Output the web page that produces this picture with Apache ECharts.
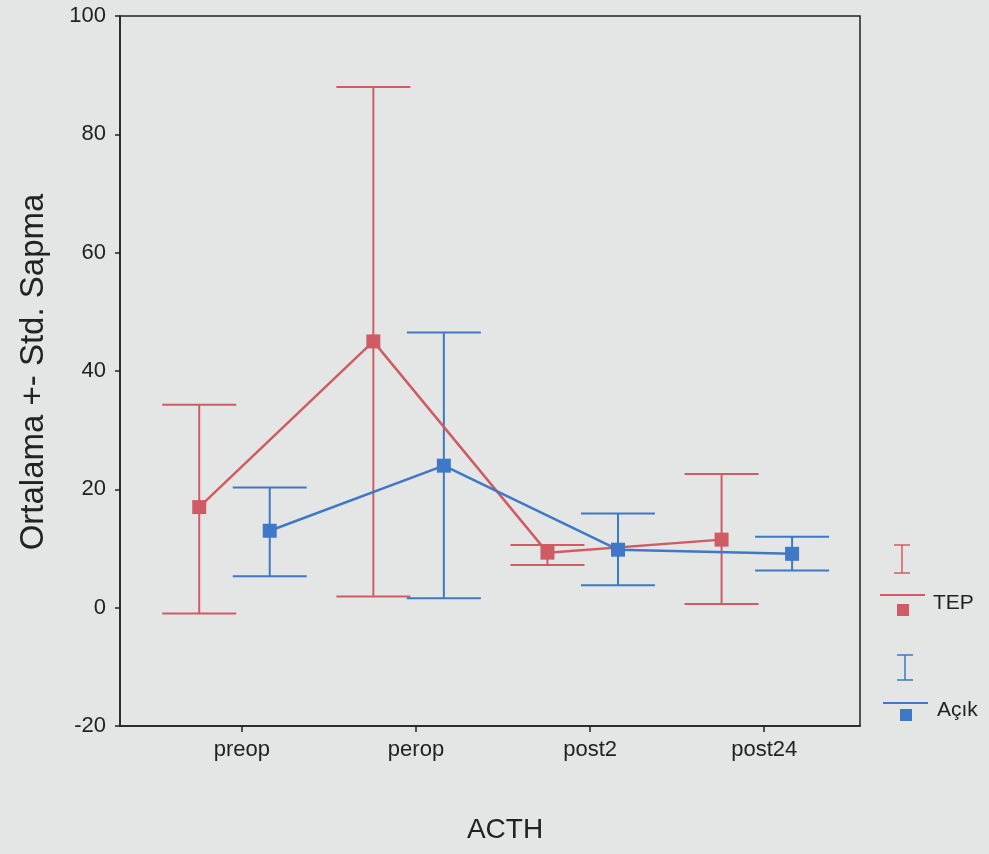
<!DOCTYPE html>
<html><head><meta charset="utf-8">
<script src="https://cdn.jsdelivr.net/npm/echarts@6/dist/echarts.min.js"></script>
<style>html,body{margin:0;padding:0;background:#e4e6e5;}#c{width:989px;height:854px;}</style>
</head><body><div id="c"></div>
<script>
var categories = ['preop', 'perop', 'post2', 'post24'];
var tepMean  = [17, 45, 9.3, 11.5];
var tepUpper = [34.3, 88, 10.6, 22.6];
var tepLower = [-1, 1.9, 7.2, 0.6];
var acikMean  = [13, 24, 9.8, 9.1];
var acikUpper = [20.3, 46.5, 15.9, 12];
var acikLower = [5.3, 1.6, 3.8, 6.3];
var yTicks = [-20, 0, 20, 40, 60, 80, 100];
var seriesNames = ['TEP', 'Açık'];

var RED = '#cf5c64', BLUE = '#3f78c6', INK = '#222222';
var OFF_T = -0.245, OFF_A = 0.16;
var catPos = categories.map(function (c, i) { return i + 1; });

function pts(mean, off) { return mean.map(function (v, i) { return [catPos[i] + off, v]; }); }
function bars(lo, hi, off) { return lo.map(function (v, i) { return [catPos[i] + off, v, hi[i]]; }); }

function errRender(color) {
  return function (params, api) {
    var x = api.value(0);
    var p1 = api.coord([x, api.value(1)]);
    var p2 = api.coord([x, api.value(2)]);
    var hw = 37;
    var st = { stroke: color, lineWidth: 2 };
    return { type: 'group', children: [
      { type: 'line', shape: { x1: p1[0], y1: p1[1], x2: p2[0], y2: p2[1] }, style: st },
      { type: 'line', shape: { x1: p1[0] - hw, y1: p1[1], x2: p1[0] + hw, y2: p1[1] }, style: st },
      { type: 'line', shape: { x1: p2[0] - hw, y1: p2[1], x2: p2[0] + hw, y2: p2[1] }, style: st }
    ]};
  };
}

var FONT = '"Liberation Sans", Arial, sans-serif';
var chart = echarts.init(document.getElementById('c'), null, { renderer: 'canvas' });
chart.setOption({
  backgroundColor: '#e4e6e5',
  animation: false,
  grid: { left: 120, top: 16, right: 129, bottom: 128, show: true, borderColor: INK, borderWidth: 1.5, backgroundColor: 'transparent' },
  xAxis: {
    type: 'value', min: 0.3, max: 4.55,
    splitLine: { show: false },
    axisLine: { onZero: false, lineStyle: { color: INK, width: 1.5 } },
    axisTick: { show: true, customValues: catPos, length: 6, lineStyle: { color: INK, width: 1.5 } },
    axisLabel: { customValues: catPos, margin: 13, color: INK, fontSize: 22, fontFamily: FONT,
      formatter: function (v) { return categories[Math.round(v) - 1] || ''; } }
  },
  yAxis: {
    type: 'value', min: yTicks[0], max: yTicks[yTicks.length - 1], interval: 20,
    splitLine: { show: false },
    axisLine: { show: true, lineStyle: { color: INK, width: 1.5 } },
    axisTick: { show: true, length: 5, lineStyle: { color: INK, width: 1.5 } },
    axisLabel: { margin: 14, color: INK, fontSize: 22, fontFamily: FONT }
  },
  series: [
    { name: seriesNames[0] + ' err', type: 'custom', renderItem: errRender(RED), data: bars(tepLower, tepUpper, OFF_T), z: 2 },
    { name: seriesNames[1] + ' err', type: 'custom', renderItem: errRender(BLUE), data: bars(acikLower, acikUpper, OFF_A), z: 2 },
    { name: seriesNames[0], type: 'line', data: pts(tepMean, OFF_T), symbol: 'rect', symbolSize: 14,
      lineStyle: { color: RED, width: 2.5 }, itemStyle: { color: RED }, z: 3 },
    { name: seriesNames[1], type: 'line', data: pts(acikMean, OFF_A), symbol: 'rect', symbolSize: 14,
      lineStyle: { color: BLUE, width: 2.5 }, itemStyle: { color: BLUE }, z: 3 }
  ],
  graphic: [
    { type: 'text', x: 505, y: 830, style: { text: 'ACTH', fill: INK, font: '28px ' + FONT, align: 'center', verticalAlign: 'middle' } },
    { type: 'text', x: 34, y: 372, rotation: Math.PI / 2, style: { text: 'Ortalama +- Std. Sapma', fill: INK, font: '33px ' + FONT, align: 'center', verticalAlign: 'middle' } },
    // legend TEP
    { type: 'line', shape: { x1: 902, y1: 545, x2: 902, y2: 573 }, style: { stroke: RED, lineWidth: 1.5 } },
    { type: 'line', shape: { x1: 894, y1: 545, x2: 910, y2: 545 }, style: { stroke: RED, lineWidth: 1.5 } },
    { type: 'line', shape: { x1: 894, y1: 573, x2: 910, y2: 573 }, style: { stroke: RED, lineWidth: 1.5 } },
    { type: 'line', shape: { x1: 880, y1: 595, x2: 925, y2: 595 }, style: { stroke: RED, lineWidth: 2 } },
    { type: 'rect', shape: { x: 897, y: 604, width: 12, height: 12 }, style: { fill: RED } },
    { type: 'text', x: 933, y: 603, style: { text: seriesNames[0], fill: INK, font: '21px ' + FONT, verticalAlign: 'middle' } },
    // legend Açık
    { type: 'line', shape: { x1: 905, y1: 655, x2: 905, y2: 680 }, style: { stroke: BLUE, lineWidth: 1.5 } },
    { type: 'line', shape: { x1: 897, y1: 655, x2: 913, y2: 655 }, style: { stroke: BLUE, lineWidth: 1.5 } },
    { type: 'line', shape: { x1: 897, y1: 680, x2: 913, y2: 680 }, style: { stroke: BLUE, lineWidth: 1.5 } },
    { type: 'line', shape: { x1: 883, y1: 703, x2: 928, y2: 703 }, style: { stroke: BLUE, lineWidth: 2 } },
    { type: 'rect', shape: { x: 900, y: 709, width: 12, height: 12 }, style: { fill: BLUE } },
    { type: 'text', x: 937, y: 710, style: { text: seriesNames[1], fill: INK, font: '21px ' + FONT, verticalAlign: 'middle' } }
  ]
});
</script>
</body></html>
